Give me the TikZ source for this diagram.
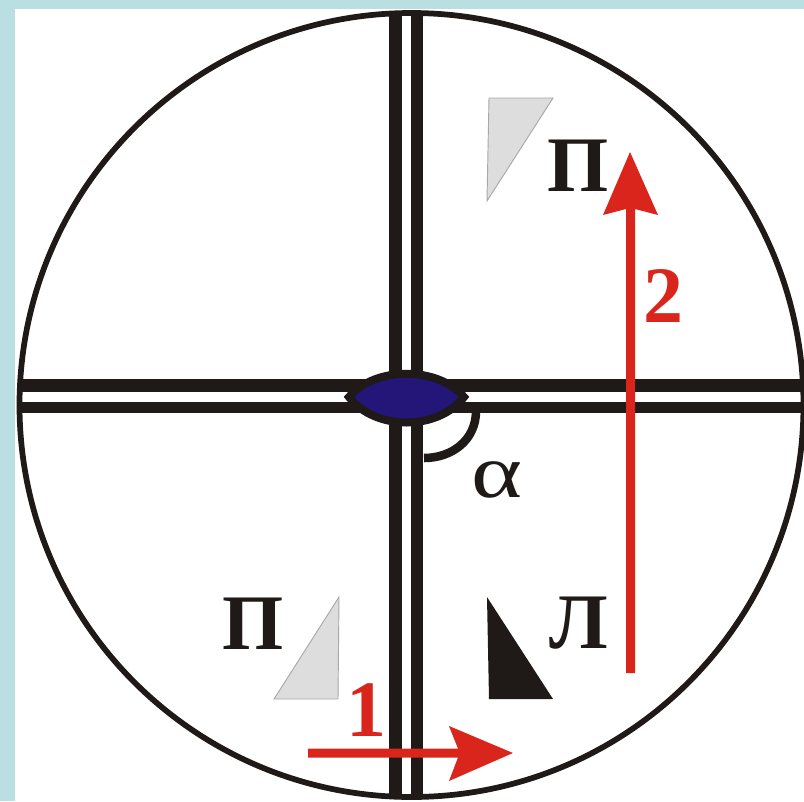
\documentclass[tikz,border=0pt]{standalone}
\usepackage{fontspec}
\setmainfont{Liberation Serif}
\definecolor{bgcyan}{HTML}{B9DFE2}
\definecolor{inkblack}{HTML}{1F1A17}
\definecolor{arrowred}{HTML}{DA251C}
\definecolor{lensblue}{HTML}{241579}
\definecolor{prismgray}{HTML}{DCDDDC}
\definecolor{prismedge}{HTML}{A8A8A8}
\tikzset{
  rim/.style={draw=inkblack,line width=4.3pt},
  bar/.style={fill=inkblack},
  lens/.style={fill=lensblue,draw=inkblack,line width=6pt,miter limit=10},
  anglearc/.style={draw=inkblack,line width=6.4pt},
  grayprism/.style={fill=prismgray,draw=prismedge,line width=0.7pt},
  blackprism/.style={fill=inkblack},
  redarrow/.style={fill=arrowred},
  letter/.style={text=inkblack,inner sep=0pt,anchor=base,font=\bfseries\fontsize{59}{59}\selectfont},
  digit/.style={text=arrowred,inner sep=0pt,anchor=base,font=\bfseries\fontsize{60}{60}\selectfont},
  greek/.style={text=inkblack,inner sep=0pt,anchor=base,font=\fontsize{57}{57}\selectfont}
}
\begin{document}
\begin{tikzpicture}[x=0.75pt,y=-0.75pt]
\useasboundingbox (0,0) rectangle (804,801);
\fill[bgcyan] (0,0) rectangle (804,801);
\fill[white] (15,9) rectangle (804,801);
\draw[rim] (411.5,405) circle [radius=392];
% cross hairs
\fill[bar] (389,12) rectangle (402,798);
\fill[bar] (411,12) rectangle (423,798);
\fill[bar] (20,379) rectangle (804,391.5);
\fill[bar] (20,401.5) rectangle (804,413);
% angle arc
\draw[anglearc] (424,458) .. controls (452,458) and (476,440) .. (476,411);
% central lens
\path[lens] (349,397) .. controls (375,366) and (438,366) .. (464,397)
  .. controls (438,431) and (375,431) .. cycle;
% prisms
\path[grayprism] (489,98) -- (553,98) -- (487,201) -- cycle;
\path[grayprism] (339,597) -- (338,699) -- (274,699) -- cycle;
\path[blackprism] (487,597) -- (489,699) -- (553,699) -- cycle;
% red arrows
\path[redarrow] (308,748.5) -- (458,748.5) -- (449,726) -- (513,753) -- (449,781) -- (458,757.5) -- (308,757.5) -- cycle;
\path[redarrow] (626,673) -- (626,209) -- (603,215) -- (630,152) -- (658,215) -- (635,209) -- (635,673) -- cycle;
% labels
\node[letter] (ptop) at (578,191) {П};
\node[letter] (pbottom) at (253,649) {П};
\node[letter] (lbottom) at (579,648) {Л};
\node[digit] (one) at (366,736) {1};
\node[digit] (two) at (663,322) {2};
\node[greek] (alpha) at (497,497) {\scalebox{1.28}[1]{α}};
\end{tikzpicture}
\end{document}
